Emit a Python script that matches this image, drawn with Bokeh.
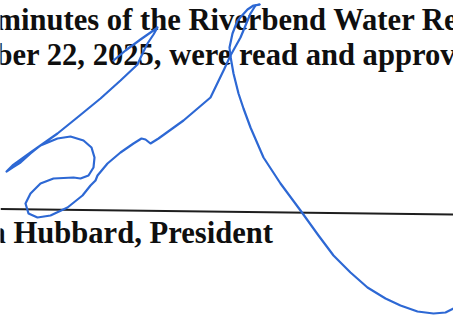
from bokeh.plotting import figure
from bokeh.models import Range1d
from bokeh.core.properties import value
from bokeh.embed import file_html
from bokeh.resources import INLINE

# Printed text lines (left x, baseline y in page pixels)
text_lines = ["minutes of the Riverbend Water Re",
              "ber 22, 2025, were read and approv",
              "a Hubbard, President"]
text_x = [-5, -5, -10]
text_y = [19, 54, 232]

# Signature line
rule_x = [0, 453]
rule_y = [208.5, 214]

# Signature strokes
stroke1_x = [113, 125, 140, 150, 157, 153, 147, 142, 137, 120, 100, 78, 57, 30, 12, 6,
             12, 20, 30, 40, 57, 70, 83, 91, 94, 93, 88, 80, 73, 53, 40, 30, 25, 28, 37,
             50, 67, 82, 90, 95, 97, 107, 120, 133, 141, 145, 150, 158, 183, 210, 224,
             230, 240, 250, 255, 259]
stroke1_y = [60, 50, 39, 32, 27, 34, 43, 53, 64, 80, 98, 116, 133, 152, 165, 171,
             167, 162, 153, 145, 138, 136, 140, 147, 157, 167, 175, 178, 177, 178, 183, 193, 203, 213, 217,
             215, 207, 195, 185, 180, 175, 163, 152, 143, 138, 139, 143, 138, 120, 97, 68,
             55, 37, 13, 5, 4]
stroke2_x = [259, 253, 247, 237, 232, 229, 230, 233, 238, 243, 250, 263, 280, 300, 318,
             333, 350, 367, 385, 400, 417, 433, 445, 453]
stroke2_y = [4, 5, 9, 20, 33, 47, 56, 73, 93, 108, 127, 157, 183, 210, 235,
             255, 272, 287, 298, 305, 311, 313, 312, 308]

p = figure(width=453, height=317, output_backend="svg", toolbar_location=None,
           x_range=Range1d(0, 453), y_range=Range1d(317, 0),
           min_border=0, background_fill_color="white", border_fill_color="white")
p.axis.visible = False
p.grid.visible = False
p.outline_line_color = None

p.text(x=text_x, y=text_y, text=text_lines, text_font=value("Liberation Serif"),
       text_font_style="bold", text_font_size="30.6px", text_color="#0f0f0f",
       text_baseline="alphabetic", text_align="left")

p.line(rule_x, rule_y, line_color="#1e1e1e", line_width=2)

p.line(stroke1_x, stroke1_y, line_color="#2d68d4", line_width=2.2,
       line_join="round", line_cap="round")
p.line(stroke2_x, stroke2_y, line_color="#2d68d4", line_width=2.2,
       line_join="round", line_cap="round")

open("out.html", "w").write(file_html(p, INLINE))
